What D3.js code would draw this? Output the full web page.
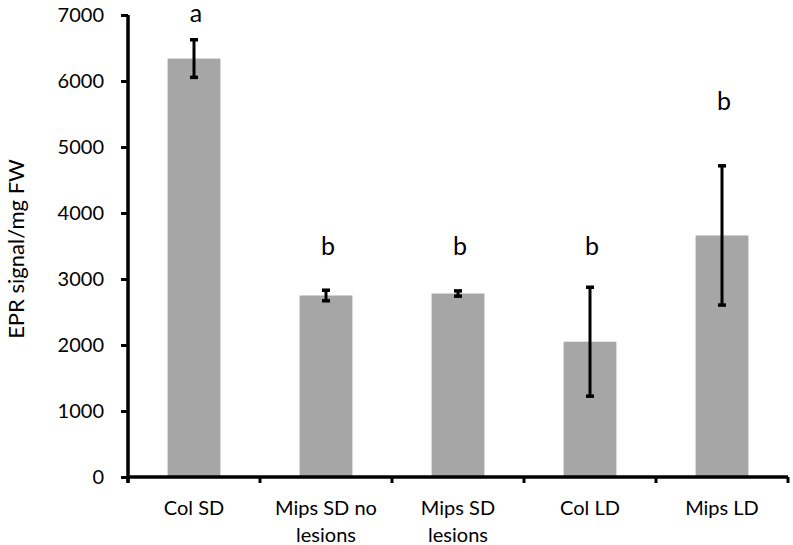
<!DOCTYPE html>
<html>
<head>
<meta charset="utf-8">
<script src="https://cdn.jsdelivr.net/npm/d3@7"></script>
<style>
  html, body { margin: 0; padding: 0; background: #fff; }
  svg { display: block; font-family: Lato, "Open Sans", sans-serif; }
</style>
</head>
<body>
<svg id="chart" width="793" height="545"></svg>
<script>
const categories = ["Col SD", "Mips SD no lesions", "Mips SD lesions", "Col LD", "Mips LD"];
const categoryLines = [["Col SD"], ["Mips SD no", "lesions"], ["Mips SD", "lesions"], ["Col LD"], ["Mips LD"]];
const values = [6340, 2750, 2780, 2050, 3660];
const errors = [285, 80, 40, 825, 1055];
const letters = ["a", "b", "b", "b", "b"];
const letterY = [6890, 3360, 3360, 3360, 5560];
const yTicks = [0, 1000, 2000, 3000, 4000, 5000, 6000, 7000];
const yTitle = "EPR signal/mg FW";

const svg = d3.select("#chart");
const mLeft = 128, mRight = 788, mTop = 15, mBottom = 477;

const x = d3.scaleBand().domain(categories).range([mLeft, mRight]).paddingInner(0.6).paddingOuter(0.3);
const y = d3.scaleLinear().domain([0, 7000]).range([mBottom, mTop]);

// bars
svg.append("g").selectAll("rect").data(categories).join("rect")
  .attr("x", d => x(d))
  .attr("y", (d, i) => y(values[i]))
  .attr("width", x.bandwidth())
  .attr("height", (d, i) => y(0) - y(values[i]))
  .attr("fill", "#a6a6a6");

// error bars
const eg = svg.append("g").attr("stroke", "#000");
categories.forEach((c, i) => {
  const cx = x(c) + x.bandwidth() / 2;
  const hi = y(values[i] + errors[i]), lo = y(values[i] - errors[i]);
  eg.append("line").attr("x1", cx).attr("x2", cx).attr("y1", hi).attr("y2", lo).attr("stroke-width", 3);
  eg.append("line").attr("x1", cx - 4).attr("x2", cx + 4).attr("y1", hi).attr("y2", hi).attr("stroke-width", 3.5);
  eg.append("line").attr("x1", cx - 4).attr("x2", cx + 4).attr("y1", lo).attr("y2", lo).attr("stroke-width", 3.5);
});

// significance letters
svg.append("g").selectAll("text").data(categories).join("text")
  .attr("x", d => x(d) + x.bandwidth() / 2 + 2)
  .attr("y", (d, i) => y(letterY[i]))
  .attr("text-anchor", "middle")
  .attr("font-size", 25)
  .attr("fill", "#000")
  .text((d, i) => letters[i]);

// y axis
const yAxis = svg.append("g")
  .attr("transform", `translate(${mLeft},0)`)
  .call(d3.axisLeft(y).tickValues(yTicks).tickSize(7).tickSizeOuter(0).tickPadding(17).tickFormat(d3.format("d")));
yAxis.select(".domain").attr("stroke-width", 3.5).attr("d", `M0,${mTop}V${mBottom + 6}`);
yAxis.selectAll(".tick line").attr("stroke-width", 3);
yAxis.selectAll(".tick text").attr("font-size", 20).attr("font-family", "Lato, 'Open Sans', sans-serif").attr("fill", "#000");

// x axis
const step = x.step();
const bounds = categories.map(c => x(c) - step * x.paddingInner() / 2).concat([mRight]);
bounds[0] = mLeft;
const xg = svg.append("g");
xg.append("line").attr("x1", mLeft).attr("x2", mRight).attr("y1", mBottom).attr("y2", mBottom)
  .attr("stroke", "#000").attr("stroke-width", 3.5);
xg.selectAll("line.tick").data(bounds).join("line").attr("class", "tick")
  .attr("x1", d => d).attr("x2", d => d).attr("y1", mBottom).attr("y2", mBottom + 6)
  .attr("stroke", "#000").attr("stroke-width", 3);

// category labels
const lg = svg.append("g").attr("font-size", 20).attr("fill", "#000").attr("text-anchor", "middle");
categories.forEach((c, i) => {
  const t = lg.append("text").attr("x", x(c) + x.bandwidth() / 2).attr("y", 515);
  categoryLines[i].forEach((ln, j) => {
    t.append("tspan").attr("x", x(c) + x.bandwidth() / 2).attr("dy", j === 0 ? 0 : 27).text(ln);
  });
});

// y title
svg.append("text")
  .attr("transform", `translate(24,${(mTop + mBottom) / 2 + 3}) rotate(-90)`)
  .attr("text-anchor", "middle")
  .attr("font-size", 22)
  .attr("fill", "#000")
  .text(yTitle);
</script>
</body>
</html>
